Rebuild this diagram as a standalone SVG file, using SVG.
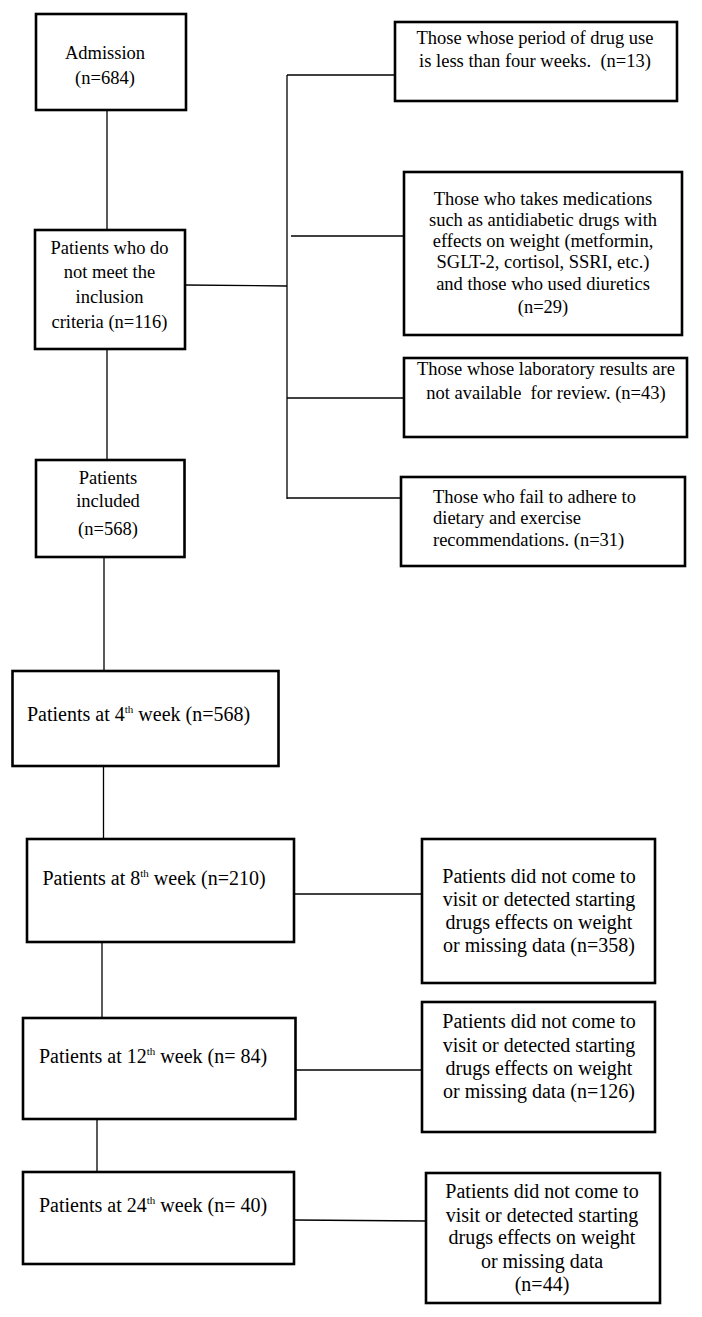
<svg xmlns="http://www.w3.org/2000/svg" width="702" height="1317" viewBox="0 0 702 1317">
<style>
.box{fill:#fff;stroke:#000;stroke-width:2.6}
.conn{stroke:#000;stroke-width:1.3;fill:none}
text{font-family:"Liberation Serif","Times New Roman",serif;fill:#000}
.t{font-size:18.5px}
.w{font-size:20px}
.c{text-anchor:middle}
.sup{font-size:11px}
</style>
<rect width="702" height="1317" fill="#fff"/>
<g id="connectors">
<line class="conn" x1="107" y1="110" x2="107" y2="230"/>
<line class="conn" x1="107" y1="349" x2="107" y2="460"/>
<line class="conn" x1="104" y1="557" x2="104" y2="671"/>
<line class="conn" x1="103.5" y1="766" x2="103.5" y2="839"/>
<line class="conn" x1="102" y1="942" x2="102" y2="1018"/>
<line class="conn" x1="97" y1="1119" x2="97" y2="1172"/>
<line class="conn" x1="185" y1="285" x2="287" y2="286"/>
<line class="conn" x1="287" y1="75" x2="287" y2="499"/>
<line class="conn" x1="287" y1="75" x2="395" y2="75"/>
<line class="conn" x1="291" y1="236" x2="404" y2="236"/>
<line class="conn" x1="287" y1="398" x2="404" y2="398"/>
<line class="conn" x1="287" y1="498" x2="401" y2="498"/>
<line class="conn" x1="294" y1="894" x2="422" y2="894"/>
<line class="conn" x1="295.5" y1="1070" x2="422" y2="1070"/>
<line class="conn" x1="294" y1="1220" x2="426" y2="1221"/>
</g>
<g id="admission">
<rect class="box" x="36" y="14" width="150" height="96"/>
<text class="t c" x="105" y="59">Admission</text>
<text class="t c" x="105" y="84">(n=684)</text>
</g>
<g id="not-meet">
<rect class="box" x="35" y="230" width="150" height="119"/>
<text class="t c" x="109.5" y="254">Patients who do</text>
<text class="t c" x="109.5" y="278">not meet the</text>
<text class="t c" x="109.5" y="303">inclusion</text>
<text class="t c" x="109.5" y="328">criteria (n=116)</text>
</g>
<g id="excl-period">
<rect class="box" x="395" y="22" width="282" height="79"/>
<text class="t c" x="535" y="44">Those whose period of drug use</text>
<text class="t c" x="535" y="67">is less than four weeks.&#160; (n=13)</text>
</g>
<g id="excl-meds">
<rect class="box" x="404" y="172" width="278" height="163"/>
<text class="t c" x="543" y="205">Those who takes medications</text>
<text class="t c" x="543" y="226">such as antidiabetic drugs with</text>
<text class="t c" x="543" y="247">effects on weight (metformin,</text>
<text class="t c" x="543" y="268">SGLT-2, cortisol, SSRI, etc.)</text>
<text class="t c" x="543" y="290">and those who used diuretics</text>
<text class="t c" x="543" y="313">(n=29)</text>
</g>
<g id="excl-lab">
<rect class="box" x="404" y="358" width="283" height="79"/>
<text class="t c" x="546" y="375">Those whose laboratory results are</text>
<text class="t c" x="546" y="399">not available&#160; for review. (n=43)</text>
</g>
<g id="excl-diet">
<rect class="box" x="401" y="477" width="284" height="89"/>
<text class="t" x="433" y="503">Those who fail to adhere to</text>
<text class="t" x="433" y="524">dietary and exercise</text>
<text class="t" x="433" y="546">recommendations. (n=31)</text>
</g>
<g id="included">
<rect class="box" x="36" y="460" width="148.5" height="97"/>
<text class="t c" x="108" y="484">Patients</text>
<text class="t c" x="108" y="507">included</text>
<text class="t c" x="108" y="535">(n=568)</text>
</g>
<g id="week4">
<rect class="box" x="12.5" y="671" width="266" height="95"/>
<text class="w" x="27" y="721">Patients at 4<tspan class="sup" dy="-8">th</tspan><tspan dy="8"> week (n=568)</tspan></text>
</g>
<g id="week8">
<rect class="box" x="27" y="839" width="267" height="103"/>
<text class="w" x="42.5" y="885">Patients at 8<tspan class="sup" dy="-8">th</tspan><tspan dy="8"> week (n=210)</tspan></text>
</g>
<g id="lost8">
<rect class="box" x="422" y="839" width="233" height="144"/>
<text class="w c" x="539" y="883">Patients did not come to</text>
<text class="w c" x="539" y="906">visit or detected starting</text>
<text class="w c" x="539" y="929">drugs effects on weight</text>
<text class="w c" x="539" y="952">or missing data (n=358)</text>
</g>
<g id="week12">
<rect class="box" x="23" y="1018" width="272.5" height="101"/>
<text class="w" x="39" y="1063">Patients at 12<tspan class="sup" dy="-8">th</tspan><tspan dy="8"> week (n= 84)</tspan></text>
</g>
<g id="lost12">
<rect class="box" x="422" y="1002" width="233" height="130"/>
<text class="w c" x="539" y="1028">Patients did not come to</text>
<text class="w c" x="539" y="1052">visit or detected starting</text>
<text class="w c" x="539" y="1075">drugs effects on weight</text>
<text class="w c" x="539" y="1098">or missing data (n=126)</text>
</g>
<g id="week24">
<rect class="box" x="23" y="1172" width="271" height="92"/>
<text class="w" x="39" y="1212">Patients at 24<tspan class="sup" dy="-8">th</tspan><tspan dy="8"> week (n= 40)</tspan></text>
</g>
<g id="lost24">
<rect class="box" x="426" y="1173" width="234" height="130"/>
<text class="w c" x="542" y="1198">Patients did not come to</text>
<text class="w c" x="542" y="1222">visit or detected starting</text>
<text class="w c" x="542" y="1244">drugs effects on weight</text>
<text class="w c" x="542" y="1268">or missing data</text>
<text class="w c" x="542" y="1291">(n=44)</text>
</g>
</svg>
